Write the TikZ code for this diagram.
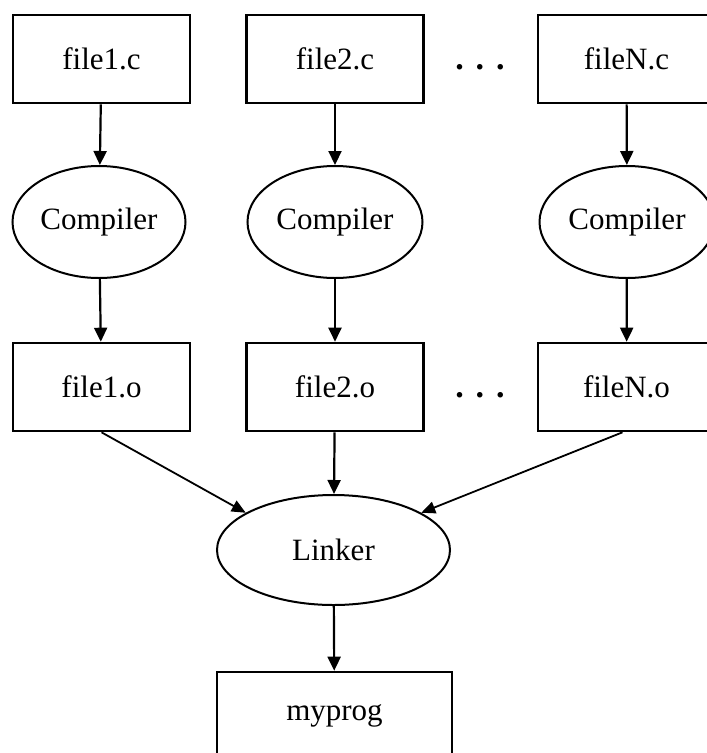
\documentclass[tikz,border=0pt]{standalone}
\usepackage{fontspec}
\setmainfont{Liberation Serif}
\usetikzlibrary{shapes.geometric,arrows.meta}
\tikzset{
  x=1pt, y=-1pt,
  every node/.style={font=\fontsize{31}{37}\selectfont},
  filebox/.style={draw, line width=2.6pt, rectangle, minimum width=177pt, minimum height=88pt, inner sep=0pt},
  tool/.style={draw, line width=2pt, ellipse, inner sep=0pt},
  flow/.style={line width=2.2pt, -{Triangle[length=14pt,width=13pt]}},
  thinflow/.style={line width=1.8pt, -{Triangle[length=14pt,width=12pt]}},
  gap/.style={font=\bfseries\fontsize{34}{40}\selectfont}
}
\begin{document}
\begin{tikzpicture}
  \useasboundingbox (0,0) rectangle (707,753);
  \clip (0,0) rectangle (707,753);

  % source files
  \node[filebox] (f1c) at (101.5,59) {file1.c};
  \node[filebox] (f2c) at (335,59) {file2.c};
  \node[filebox] (fNc) at (626.5,59) {fileN.c};
  \node[gap] (d1) at (480,67) {.\hspace{12pt}.\hspace{12pt}.};

  % compilers
  \node[tool, minimum width=173pt, minimum height=112pt] (c1) at (99,222) {Compiler};
  \node[tool, minimum width=175pt, minimum height=112pt] (c2) at (335,222) {Compiler};
  \node[tool, minimum width=175pt, minimum height=112pt] (cN) at (627,222) {Compiler};

  % object files
  \node[filebox] (f1o) at (101.5,387) {file1.o};
  \node[filebox] (f2o) at (335,387) {file2.o};
  \node[filebox] (fNo) at (626.5,387) {fileN.o};
  \node[gap] (d2) at (480,395) {.\hspace{12pt}.\hspace{12pt}.};

  % linker and output
  \node[tool, minimum width=233pt, minimum height=110pt] (lk) at (333.5,550) {Linker};
  \node[filebox, minimum width=235pt] (prog) at (334.5,716) {myprog};

  % edges
  \draw[flow] (f1c) -- (c1);
  \draw[flow] (f2c) -- (c2);
  \draw[flow] (fNc) -- (cN);
  \draw[flow] (c1) -- (f1o);
  \draw[flow] (c2) -- (f2o);
  \draw[flow] (cN) -- (fNo);
  \draw[thinflow] (f1o.south) -- (lk.157);
  \draw[flow] (f2o) -- (lk);
  \draw[thinflow] ([xshift=-4pt]fNo.south) -- (lk.23);
  \draw[flow] (lk) -- (prog);
\end{tikzpicture}
\end{document}
